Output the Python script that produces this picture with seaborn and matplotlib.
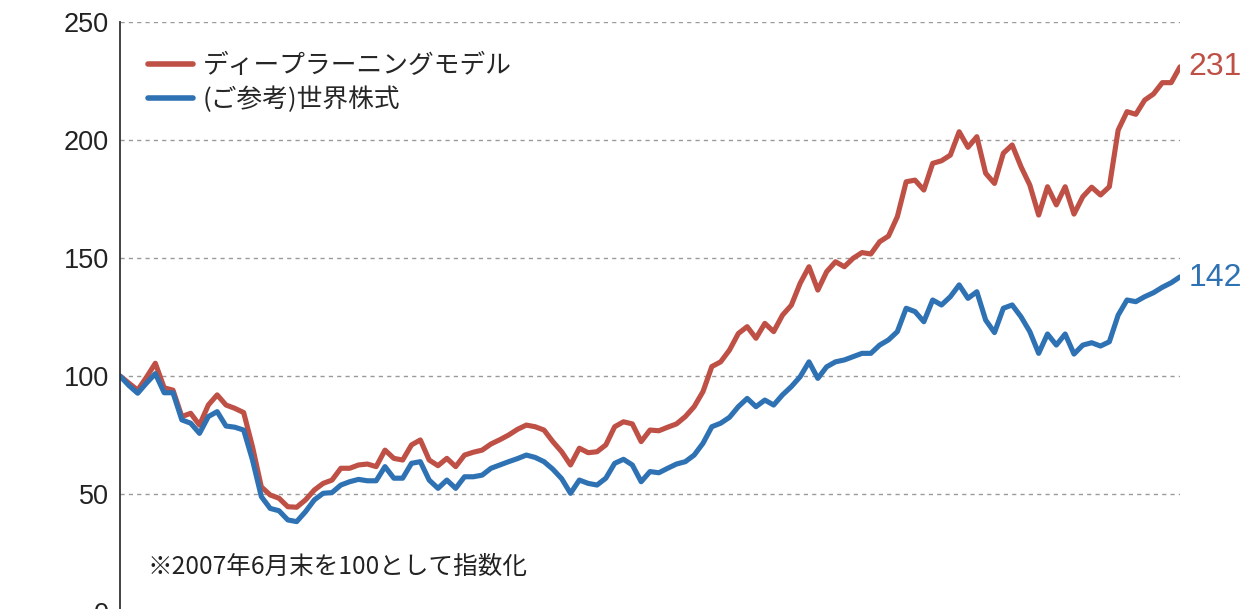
import numpy as np
import pandas as pd
import matplotlib
matplotlib.use("Agg")
import matplotlib.pyplot as plt
import seaborn as sns

# ---- data (monthly index, 2007-06 = 100) ----
model_vals = [
    100, 97, 94, 99.5, 105.4, 95, 94, 82.8, 84.2, 79.2,
    87.7, 92, 87.7, 86.3, 84.5, 70, 53, 49.6, 48.2, 44.6,
    44.4, 47.5, 51.7, 54.5, 55.9, 60.9, 60.9, 62.3, 62.7, 61.6,
    68.6, 65.1, 64.4, 70.8, 72.9, 64.4, 62, 65.1, 61.6, 66.5,
    67.7, 68.6, 71.2, 73, 75, 77.4, 79.2, 78.5, 77.1, 72.2,
    67.9, 62.3, 69.4, 67.5, 67.9, 70.8, 78.5, 80.6, 79.7, 72.2,
    77.1, 76.8, 78.3, 79.7, 82.8, 87, 93.4, 104, 106, 111,
    118, 120.9, 116, 122.3, 118.8, 125.8, 130, 139.3, 146.3, 136.4,
    144.2, 148.4, 146.3, 149.9, 152.3, 151.7, 156.9, 159.3, 167.5, 182.3,
    183, 178.8, 190.1, 191.2, 193.6, 203.5, 196.9, 201.4, 185.9, 181.6,
    194.4, 197.9, 188.7, 180.9, 168.2, 180.2, 172.5, 180.2, 168.6, 176,
    180, 176.7, 180.2, 204.2, 212, 210.9, 216.9, 219.5, 224.3, 224.3,
    231,
]
world_vals = [
    100, 96, 92.7, 97, 101, 92.9, 92.9, 81.4, 80, 75.7,
    82.8, 84.9, 78.8, 78.3, 77.1, 64.4, 48.9, 43.9, 42.9, 39,
    38.3, 42.5, 47.5, 50.3, 50.6, 53.8, 55.2, 56.2, 55.6, 55.6,
    61.6, 56.7, 56.7, 63, 63.7, 55.9, 52.4, 55.9, 52.4, 57.3,
    57.3, 58, 60.9, 62.3, 63.7, 65, 66.5, 65.5, 63.7, 60.5,
    56.5, 50.3, 55.9, 54.5, 53.8, 56.7, 63, 64.7, 62.3, 55.2,
    59.5, 59, 60.9, 62.7, 63.7, 66.5, 71.5, 78.5, 80, 82.5,
    87, 90.5, 87, 89.8, 87.7, 92, 95.5, 99.7, 106, 99,
    103.9, 106, 106.8, 108.2, 109.6, 109.6, 113.1, 115.3, 118.8, 128.7,
    127.3, 123, 132.2, 130.1, 133.6, 138.6, 132.9, 135.7, 123.7, 118.4,
    128.7, 130.1, 125.1, 118.8, 109.6, 117.8, 113.1, 117.8, 109.3, 113.1,
    114.1, 112.7, 114.5, 125.8, 132.2, 131.5, 133.6, 135.3, 137.6, 139.5,
    142,
]
series_names = ["ディープラーニングモデル", "(ご参考)世界株式"]
y_ticks = [0, 50, 100, 150, 200, 250]
x_ticks = [0, 24, 48, 72, 96, 120]
note_text = "※2007年6月末を100として指数化"

RED = "#BE5046"
BLUE = "#2F72B4"

months = np.arange(len(model_vals))
df = pd.DataFrame({
    "m": np.concatenate([months, months]),
    "v": np.concatenate([model_vals, world_vals]),
    "s": [series_names[0]] * len(model_vals) + [series_names[1]] * len(world_vals),
})

sns.set_style("white")
plt.rcParams["font.family"] = ["Liberation Sans", "Noto Sans CJK JP"]
JP = ["Noto Sans CJK JP", "DejaVu Sans"]

fig = plt.figure(figsize=(12.43, 6.09), dpi=100)
ax = fig.add_axes([120 / 1243, -3 / 609, 1060 / 1243, 590 / 609])

sns.lineplot(data=df, x="m", y="v", hue="s", hue_order=series_names,
             palette=[RED, BLUE], linewidth=3.7, ax=ax,
             solid_joinstyle="round", solid_capstyle="round")

ax.set_xlim(0, len(model_vals) - 1)
ax.set_ylim(0, 250)
ax.set_yticks(y_ticks)
ax.set_yticklabels([str(t) for t in y_ticks])
ax.set_xticks(x_ticks)
ax.set_xticklabels([])
ax.set_xlabel("")
ax.set_ylabel("")

for t in y_ticks[1:]:
    ax.axhline(t, color="#9a9a9a", lw=1.0, ls=(0, (3, 3)), zorder=0)

for side in ["top", "right"]:
    ax.spines[side].set_visible(False)
for side in ["left", "bottom"]:
    ax.spines[side].set_color("#333333")
    ax.spines[side].set_linewidth(1.3)

ax.tick_params(axis="y", direction="in", length=7, width=1.3, color="#222222",
               labelsize=19.5, pad=8, labelcolor="#222222")
ax.tick_params(axis="x", direction="in", length=10, width=1.0, color="#222222")

leg = ax.legend(loc="upper left", bbox_to_anchor=(0.026, 0.948), frameon=False,
                prop={"family": JP, "size": 18.5}, handlelength=1.75,
                handletextpad=0.4, labelspacing=0.32, borderpad=0, borderaxespad=0)
for line in leg.get_lines():
    line.set_linewidth(4)

ax.annotate(f"{model_vals[-1]:.0f}", xy=(months[-1], model_vals[-1]),
            xytext=(6, 0), textcoords="offset points", va="center", ha="left",
            color=RED, fontsize=23, annotation_clip=False)
ax.annotate(f"{world_vals[-1]:.0f}", xy=(months[-1], world_vals[-1]),
            xytext=(6, -1), textcoords="offset points", va="center", ha="left",
            color=BLUE, fontsize=23, annotation_clip=False)

ax.text(0.026, 0.077, note_text, transform=ax.transAxes, ha="left", va="center",
        fontsize=17.7, family=JP, color="#222222")

fig.savefig("out.png", dpi=100)
